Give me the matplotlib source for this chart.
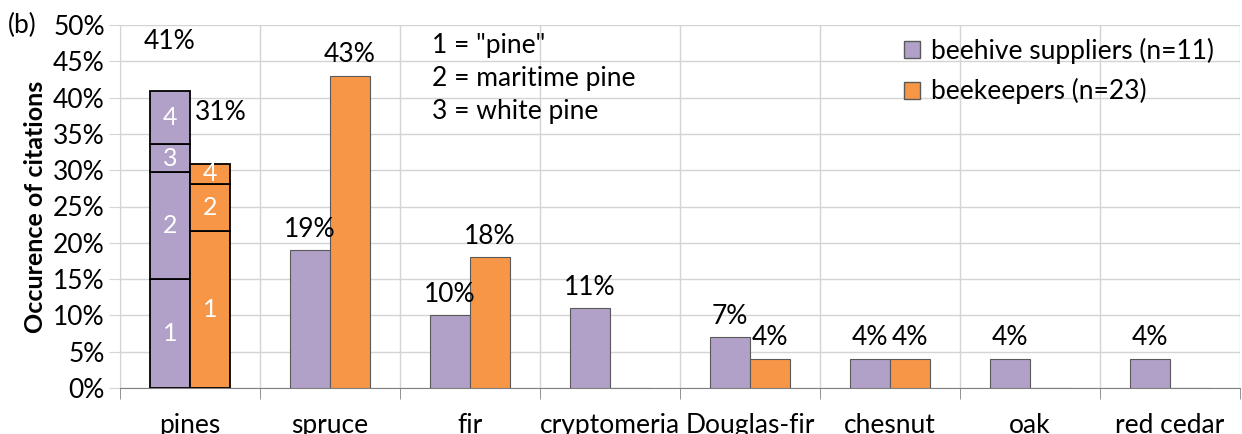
import matplotlib
matplotlib.use("Agg")
import matplotlib.pyplot as plt
from matplotlib.patches import Patch
import numpy as np

plt.rcParams['font.family'] = ['Lato', 'DejaVu Sans']

# categories and values (%)
species = ["pines", "spruce", "fir", "cryptomeria", "Douglas-fir", "chesnut", "oak", "red cedar"]
suppliers = [41, 19, 10, 11, 7, 4, 4, 4]
beekeepers = [31, 43, 18, 0, 4, 4, 0, 0]

# pine sub-types stacked inside the "pines" bars
pine_sup_parts = [15.0, 14.7, 3.9, 7.3]
pine_sup_ids = ["1", "2", "3", "4"]
pine_bee_parts = [21.6, 6.5, 2.8]
pine_bee_ids = ["1", "2", "4"]

legend_labels = ["beehive suppliers (n=11)", "beekeepers (n=23)"]
key_text = '1 = "pine"\n2 = maritime pine\n3 = white pine'

purple = "#B1A0C7"
orange = "#F79646"
grid_c = "#d4d4d4"
fs = 19

fig = plt.figure(figsize=(12.42, 4.34), dpi=100)
ax = fig.add_axes([120 / 1242, 46 / 434, 1120 / 1242, 363 / 434])

x = np.arange(len(species))
w = 0.2857

# regular bars (everything except pines)
ax.bar(x[1:] - w / 2, suppliers[1:], w, color=purple, edgecolor="#595959", linewidth=0.8, zorder=3)
ax.bar(x[1:] + w / 2, beekeepers[1:], w, color=orange, edgecolor="#595959", linewidth=0.8, zorder=3)

# stacked pines bars
bottom = 0
for val, lab in zip(pine_sup_parts, pine_sup_ids):
    ax.bar(x[0] - w / 2, val, w, bottom=bottom, color=purple, edgecolor="black", linewidth=1.3, zorder=3)
    ax.text(x[0] - w / 2, bottom + val / 2, lab, color="white", ha="center", va="center", fontsize=fs - 1, zorder=4)
    bottom += val
bottom = 0
for val, lab in zip(pine_bee_parts, pine_bee_ids):
    ax.bar(x[0] + w / 2, val, w, bottom=bottom, color=orange, edgecolor="black", linewidth=1.3, zorder=3)
    ax.text(x[0] + w / 2, bottom + val / 2, lab, color="white", ha="center", va="center", fontsize=fs - 1, zorder=4)
    bottom += val

# value labels
ax.text(x[0] - w / 2, suppliers[0] + 6.7, f"{suppliers[0]}%", ha="center", va="center", fontsize=fs)
ax.text(x[0] + w / 2 + 0.08, beekeepers[0] + 6.9, f"{beekeepers[0]}%", ha="center", va="center", fontsize=fs)
for i in x[1:]:
    if suppliers[i]:
        ax.text(i - w / 2, suppliers[i] + 2.9, f"{suppliers[i]}%", ha="center", va="center", fontsize=fs)
    if beekeepers[i]:
        ax.text(i + w / 2, beekeepers[i] + 2.9, f"{beekeepers[i]}%", ha="center", va="center", fontsize=fs)

ax.set_xlim(-0.5, len(species) - 0.5)
ax.set_ylim(0, 50)
ax.set_yticks(np.arange(0, 51, 5))
ax.set_yticklabels([f"{v}%" for v in range(0, 51, 5)], fontsize=fs)
ax.set_xticks(x)
ax.set_xticklabels(species, fontsize=fs)
ax.set_xticks(np.arange(-0.5, len(species), 1), minor=True)
ax.tick_params(axis="x", which="major", length=0, pad=18)
ax.tick_params(axis="x", which="minor", length=8, color="#808080", direction="out")
ax.tick_params(axis="y", length=8, color=grid_c, pad=3)

ax.grid(axis="y", color=grid_c, linewidth=1, zorder=0)
ax.grid(axis="x", which="minor", color=grid_c, linewidth=1, zorder=0)
for s in ["top", "right"]:
    ax.spines[s].set_visible(False)
ax.spines["left"].set_color(grid_c)
ax.spines["bottom"].set_color("#808080")

ax.set_ylabel("Occurence of citations", fontsize=fs - 1, fontweight="bold", labelpad=4)

handles = [Patch(facecolor=purple, edgecolor="#595959"), Patch(facecolor=orange, edgecolor="#595959")]
ax.legend(handles, legend_labels, loc="upper left", bbox_to_anchor=(0.700, 0.965), frameon=False,
          borderpad=0, borderaxespad=0, fontsize=fs, handlelength=0.62, handleheight=0.62,
          handletextpad=0.4, labelspacing=0.55)

ax.text(1.73, 48.9, key_text, ha="left", va="top", fontsize=fs, linespacing=1.4)
fig.text(8 / 1242, 1 - 25 / 434, "(b)", ha="left", va="center", fontsize=fs)

fig.savefig("out.png", dpi=100)
